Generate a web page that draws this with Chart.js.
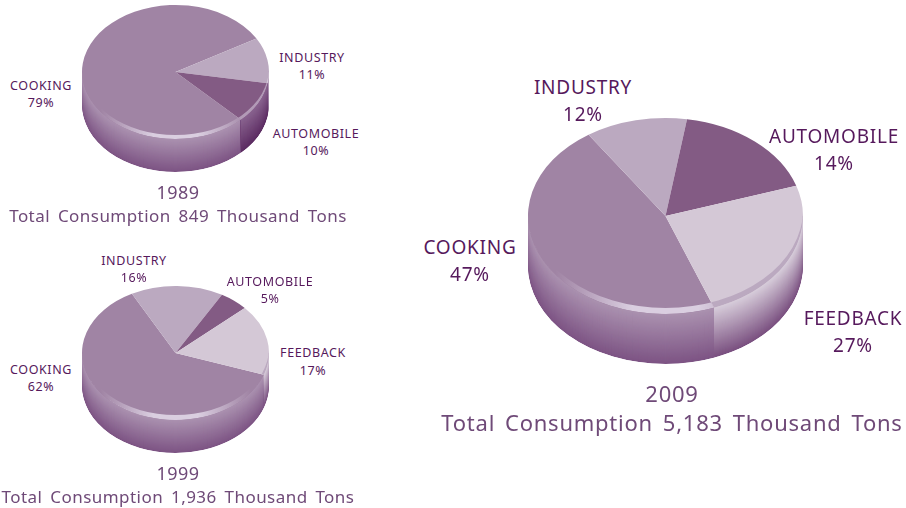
<!DOCTYPE html>
<html>
<head>
<meta charset="utf-8">
<title>Consumption pies</title>
<script src="https://cdn.jsdelivr.net/npm/chart.js@4"></script>
<style>
  html, body { margin: 0; padding: 0; background: #fff; }
  #page { position: relative; width: 906px; height: 508px; overflow: hidden; font-family: "Noto Sans", sans-serif; }
  canvas { position: absolute; }
  .txt { position: absolute; white-space: nowrap; transform: translate(-50%, -50%); line-height: 1; }
  .lab { color: #56195c; letter-spacing: 0.6px; }
  .big { letter-spacing: 0.75px; }
  .ttl { color: #6f4a78; letter-spacing: 0.45px; word-spacing: 3px; }
  .wide { letter-spacing: 0.75px; word-spacing: 3.5px; }
</style>
</head>
<body>
<div id="page"></div>
<script>
const years = ['1989', '1999', '2009']
const totals = ['Total Consumption 849 Thousand Tons', 'Total Consumption 1,936 Thousand Tons', 'Total Consumption 5,183 Thousand Tons']

const categories1989 = ['COOKING', 'INDUSTRY', 'AUTOMOBILE']
const values1989 = [79, 11, 10]

const categories1999 = ['COOKING', 'INDUSTRY', 'AUTOMOBILE', 'FEEDBACK']
const values1999 = [62, 16, 5, 17]

const categories2009 = ['COOKING', 'INDUSTRY', 'AUTOMOBILE', 'FEEDBACK']
const printed2009 = [47, 12, 14, 27]
// the 2009 slices in the picture are not cut to the printed shares, these are the arcs as drawn
const values2009 = [46.3, 11.95, 17.5, 24.25]

const styles = {
    COOKING: { top: '#a084a4', wallHi: '#ab92b0', wallLo: '#7d5484', rim: '218,206,224', fade: true },
    INDUSTRY: { top: '#bba9c0', wallHi: '#bba9c0', wallLo: '#8d6c93', rim: '216,203,220', fade: false },
    AUTOMOBILE: { top: '#835b84', wallHi: '#8a6490', wallLo: '#5c2c62', rim: '178,154,183', fade: false },
    FEEDBACK: { top: '#d4c8d6', wallHi: '#d8cedb', wallLo: '#7a5080', rim: '187,169,192', fade: false }
}

const TWO_PI = Math.PI * 2

// part of a slice that faces the viewer, in the arc's own angles
function frontRanges(arc) {
    let a = arc.startAngle % TWO_PI
    if (a < 0) a += TWO_PI
    const b = a + (arc.endAngle - arc.startAngle)
    const out = []
    ;[0, TWO_PI].forEach(shift => {
        const from = Math.max(a, shift)
        const to = Math.min(b, shift + Math.PI)
        if (to > from) out.push([from, to])
    })
    return out
}

// flattens the round pie and builds the wall and the bevel
const pie3d = {
    id: 'pie3d',
    beforeDatasetsDraw(chart, args, opts) {
        const ctx = chart.ctx
        const arcs = chart.getDatasetMeta(0).data
        const r = arcs[0].outerRadius
        const cx = arcs[0].x
        const cy = opts.ry + 2
        arcs.forEach((arc, i) => {
            const st = styles[chart.data.labels[i]]
            frontRanges(arc).forEach(([from, to]) => {
                ctx.save()
                ctx.beginPath()
                ctx.ellipse(cx, cy, r, opts.ry, 0, from, to)
                ctx.ellipse(cx, cy + opts.depth, r, opts.ry, 0, to, from, true)
                ctx.closePath()
                ctx.clip()
                const hi = Chart.helpers.color(st.wallHi)
                for (let d = opts.depth; d >= 0; d--) {
                    ctx.beginPath()
                    ctx.ellipse(cx, cy + d, r, opts.ry, 0, 0, TWO_PI)
                    ctx.fillStyle = hi.clone().mix(Chart.helpers.color(st.wallLo), 1 - d / opts.depth).rgbString()
                    ctx.fill()
                }
                ctx.restore()
            })
        })
        ctx.save()
        ctx.translate(0, cy - arcs[0].y * opts.ry / r)
        ctx.scale(1, opts.ry / r)
    },
    afterDatasetsDraw(chart, args, opts) {
        const ctx = chart.ctx
        ctx.restore()
        const arcs = chart.getDatasetMeta(0).data
        const r = arcs[0].outerRadius
        const cx = arcs[0].x
        const cy = opts.ry + 2
        arcs.forEach((arc, i) => {
            const st = styles[chart.data.labels[i]]
            frontRanges(arc).forEach(([from, to]) => {
                ctx.save()
                ctx.beginPath()
                ctx.moveTo(cx, cy)
                ctx.ellipse(cx, cy, r, opts.ry, 0, from, to)
                ctx.closePath()
                ctx.clip()
                ctx.beginPath()
                ctx.ellipse(cx, cy, r, opts.ry, 0, 0, TWO_PI)
                ctx.ellipse(cx, cy - opts.rim, r, opts.ry, 0, 0, TWO_PI)
                ctx.clip('evenodd')
                const grad = ctx.createLinearGradient(cx - r, 0, cx + r, 0)
                const on = 'rgba(' + st.rim + ',1)'
                const off = 'rgba(' + st.rim + ',0)'
                grad.addColorStop(0, st.fade ? off : on)
                grad.addColorStop(0.1, st.fade ? off : on)
                grad.addColorStop(0.38, on)
                grad.addColorStop(0.62, on)
                grad.addColorStop(0.9, st.fade ? off : on)
                grad.addColorStop(1, st.fade ? off : on)
                ctx.fillStyle = grad
                ctx.fillRect(cx - r, cy, r * 2, opts.ry + 1)
                ctx.restore()
            })
        })
    }
}

const page = document.getElementById('page')

function addText(text, x, y, size, cls) {
    const el = document.createElement('div')
    el.className = 'txt ' + cls
    el.textContent = text
    el.style.left = x + 'px'
    el.style.top = y + 'px'
    el.style.fontSize = size + 'px'
    page.appendChild(el)
}

function makePie(labels, values, rotation, g) {
    const side = g.r * 2 + 2
    const canvas = document.createElement('canvas')
    canvas.width = side
    canvas.height = side
    canvas.style.left = (g.cx - g.r - 1) + 'px'
    canvas.style.top = (g.cy - g.ry - 2) + 'px'
    page.appendChild(canvas)
    return new Chart(canvas.getContext('2d'), {
        type: 'pie',
        data: {
            labels,
            datasets: [{
                data: values,
                backgroundColor: labels.map(l => styles[l].top),
                borderWidth: 0,
                clip: false
            }]
        },
        options: {
            responsive: false,
            animation: false,
            rotation,
            events: [],
            layout: { padding: 1 },
            plugins: {
                legend: { display: false },
                tooltip: { enabled: false },
                pie3d: { ry: g.ry, depth: g.depth, rim: g.rim }
            }
        },
        plugins: [pie3d]
    })
}

makePie(categories1989, values1989, 135.6, { cx: 175.5, cy: 72, r: 93.5, ry: 67, depth: 33, rim: 4 })
makePie(categories1999, values1999, 109, { cx: 175.5, cy: 353, r: 93.5, ry: 67, depth: 33, rim: 5 })
makePie(categories2009, values2009, 159.3, { cx: 665.5, cy: 216, r: 137.5, ry: 98, depth: 50, rim: 6 })

function addLabel(name, value, x, y1, y2, size, cls) {
    addText(name, x, y1, size, cls)
    addText(value + '%', x, y2, size, cls)
}

addLabel(categories1989[0], values1989[0], 41, 86, 103, 12.5, 'lab')
addLabel(categories1989[1], values1989[1], 312, 58, 75, 12.5, 'lab')
addLabel(categories1989[2], values1989[2], 316, 134, 151, 12.5, 'lab')

addLabel(categories1999[0], values1999[0], 41, 370, 387, 12.5, 'lab')
addLabel(categories1999[1], values1999[1], 134, 261, 278, 12.5, 'lab')
addLabel(categories1999[2], values1999[2], 270, 282, 299, 12.5, 'lab')
addLabel(categories1999[3], values1999[3], 313, 353, 371, 12.5, 'lab')

addLabel(categories2009[0], printed2009[0], 470, 247, 274, 19, 'lab big')
addLabel(categories2009[1], printed2009[1], 583, 87, 114, 19, 'lab big')
addLabel(categories2009[2], printed2009[2], 834, 136, 163, 19, 'lab big')
addLabel(categories2009[3], printed2009[3], 853, 318, 345, 19, 'lab big')

addText(years[0], 178, 192, 18, 'ttl')
addText(totals[0], 178, 214.5, 17, 'ttl')
addText(years[1], 178, 473, 18, 'ttl')
addText(totals[1], 178, 495.5, 17, 'ttl')
addText(years[2], 672, 393, 22, 'ttl wide')
addText(totals[2], 672, 422, 22, 'ttl wide')
</script>
</body>
</html>
